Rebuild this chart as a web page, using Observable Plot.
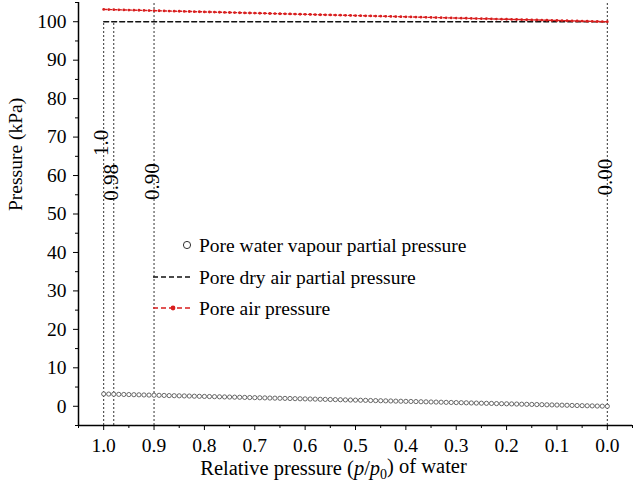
<!DOCTYPE html>
<html>
<head>
<meta charset="utf-8">
<script src="https://cdn.jsdelivr.net/npm/d3@7"></script>
<script src="https://cdn.jsdelivr.net/npm/@observablehq/plot@0.6"></script>
<style>
  html, body { margin: 0; padding: 0; background: #fff; }
  #chart { position: relative; width: 639px; height: 487px; }
  #chart svg, #chart svg text, #chart svg tspan { font-family: "Liberation Serif", "Times New Roman", serif !important; }
</style>
</head>
<body>
<div id="chart"></div>
<script>
// Relative pressure (p/p0) of water
const rh = [1.00,0.99,0.98,0.97,0.96,0.95,0.94,0.93,0.92,0.91,0.90,0.89,0.88,0.87,0.86,0.85,0.84,0.83,0.82,0.81,
  0.80,0.79,0.78,0.77,0.76,0.75,0.74,0.73,0.72,0.71,0.70,0.69,0.68,0.67,0.66,0.65,0.64,0.63,0.62,0.61,
  0.60,0.59,0.58,0.57,0.56,0.55,0.54,0.53,0.52,0.51,0.50,0.49,0.48,0.47,0.46,0.45,0.44,0.43,0.42,0.41,
  0.40,0.39,0.38,0.37,0.36,0.35,0.34,0.33,0.32,0.31,0.30,0.29,0.28,0.27,0.26,0.25,0.24,0.23,0.22,0.21,
  0.20,0.19,0.18,0.17,0.16,0.15,0.14,0.13,0.12,0.11,0.10,0.09,0.08,0.07,0.06,0.05,0.04,0.03,0.02,0.01,0.00];
// Pore water vapour partial pressure (kPa)
const vapour = [3.20,3.17,3.14,3.10,3.07,3.04,3.01,2.98,2.94,2.91,2.88,2.85,2.82,2.78,2.75,2.72,2.69,2.66,2.62,2.59,
  2.56,2.53,2.50,2.46,2.43,2.40,2.37,2.34,2.30,2.27,2.24,2.21,2.18,2.14,2.11,2.08,2.05,2.02,1.98,1.95,
  1.92,1.89,1.86,1.82,1.79,1.76,1.73,1.70,1.66,1.63,1.60,1.57,1.54,1.50,1.47,1.44,1.41,1.38,1.34,1.31,
  1.28,1.25,1.22,1.18,1.15,1.12,1.09,1.06,1.02,0.99,0.96,0.93,0.90,0.86,0.83,0.80,0.77,0.74,0.70,0.67,
  0.64,0.61,0.58,0.54,0.51,0.48,0.45,0.42,0.38,0.35,0.32,0.29,0.26,0.22,0.19,0.16,0.13,0.10,0.06,0.03,0.00];
// Pore air pressure (kPa)
const airPressure = [103.20,103.17,103.14,103.10,103.07,103.04,103.01,102.98,102.94,102.91,102.88,102.85,102.82,102.78,102.75,102.72,102.69,102.66,102.62,102.59,
  102.56,102.53,102.50,102.46,102.43,102.40,102.37,102.34,102.30,102.27,102.24,102.21,102.18,102.14,102.11,102.08,102.05,102.02,101.98,101.95,
  101.92,101.89,101.86,101.82,101.79,101.76,101.73,101.70,101.66,101.63,101.60,101.57,101.54,101.50,101.47,101.44,101.41,101.38,101.34,101.31,
  101.28,101.25,101.22,101.18,101.15,101.12,101.09,101.06,101.02,100.99,100.96,100.93,100.90,100.86,100.83,100.80,100.77,100.74,100.70,100.67,
  100.64,100.61,100.58,100.54,100.51,100.48,100.45,100.42,100.38,100.35,100.32,100.29,100.26,100.22,100.19,100.16,100.13,100.10,100.06,100.03,100.00];
// Pore dry air partial pressure (kPa)
const dryX = [1.0, 0.0];
const dryAir = [100, 100];

// Reference vertical lines
const refX = [1.0, 0.98, 0.90, 0.00];
const refTop = [100, 100, 105, 105];
const refLabels = ["1.0", "0.98", "0.90", "0.00"];
const refLabelY = [68.5, 58.2, 58.4, 59.6];

// Axis ticks
const xTicks = [1.0, 0.9, 0.8, 0.7, 0.6, 0.5, 0.4, 0.3, 0.2, 0.1, 0.0];
const xMinor = [1.05, 0.95, 0.85, 0.75, 0.65, 0.55, 0.45, 0.35, 0.25, 0.15, 0.05, -0.05];
const yTicks = [0, 10, 20, 30, 40, 50, 60, 70, 80, 90, 100];
const yMinor = [-5, 5, 15, 25, 35, 45, 55, 65, 75, 85, 95, 105];

const seriesNames = ["Pore water vapour partial pressure", "Pore dry air partial pressure", "Pore air pressure"];
const xTitle = "Relative pressure (p/p0) of water";
const yTitle = "Pressure (kPa)";

const RED = "#d81e1e";
const FONT = "'Liberation Serif', 'Times New Roman', serif";

const pts = rh.map((x, i) => ({rh: x, vapour: vapour[i], air: airPressure[i]}));
const dry = dryX.map((x, i) => ({rh: x, p: dryAir[i]}));
const refs = refX.map((x, i) => ({x, top: refTop[i], label: refLabels[i], ly: refLabelY[i]}));

const plot = Plot.plot({
  width: 639,
  height: 487,
  marginLeft: 78,
  marginRight: 7,
  marginTop: 2,
  marginBottom: 62,
  style: {fontFamily: FONT, fontSize: "19px", color: "black", background: "white"},
  x: {domain: [1.05, -0.05]},
  y: {domain: [-5, 105]},
  marks: [
    Plot.ruleX(refs, {x: "x", y1: -5, y2: "top", stroke: "#333", strokeWidth: 1, strokeDasharray: "2,2"}),
    Plot.text(refs, {x: "x", y: "ly", text: "label", rotate: -90, fontSize: 21, dx: -2, fill: "black"}),
    Plot.line(dry, {x: "rh", y: "p", stroke: "#111", strokeWidth: 1.3, strokeDasharray: "5,3"}),
    Plot.line(pts, {x: "rh", y: "air", stroke: RED, strokeWidth: 1.4, strokeDasharray: "3,2"}),
    Plot.dot(pts, {x: "rh", y: "air", r: 1.4, fill: RED}),
    Plot.dot(pts, {x: "rh", y: "vapour", r: 2.1, stroke: "#444", strokeWidth: 0.8, fill: "white"}),
    Plot.axisX({ticks: xTicks, tickSize: 5, tickPadding: 8, fontSize: 19.5, tickFormat: d3.format(".1f"), label: null}),
    Plot.axisX({ticks: xMinor, tickSize: 3, tickFormat: () => "", label: null}),
    Plot.axisY({ticks: yTicks, tickSize: 5, tickPadding: 7, fontSize: 19.5, label: null}),
    Plot.axisY({ticks: yMinor, tickSize: 3, tickFormat: () => "", label: null}),
    Plot.ruleX([1.05], {stroke: "black", strokeWidth: 1.5}),
    Plot.ruleY([-5], {stroke: "black", strokeWidth: 1.5}),
    Plot.text([yTitle], {frameAnchor: "left", text: d => d, rotate: -90, dx: -63, dy: -3, fontSize: 19.5, fill: "black"}),
    Plot.text([xTitle], {frameAnchor: "bottom", text: d => d, dx: -22, dy: 49, fontSize: 20.5, fill: "black"})
  ]
});

// Italic p and subscript 0 in the x title
d3.select(plot).selectAll("text").filter(function() { return this.textContent === xTitle; })
  .each(function() {
    const t = d3.select(this);
    t.text(null);
    t.append("tspan").text("Relative pressure (");
    t.append("tspan").attr("font-style", "italic").text("p");
    t.append("tspan").text("/");
    t.append("tspan").attr("font-style", "italic").text("p");
    t.append("tspan").attr("font-size", "14px").attr("dy", "0.3em").text("0");
    t.append("tspan").attr("dy", "-0.3em").text(") of water");
  });

// Legend
const svg = d3.select(plot);
svg.attr("font-family", FONT);
const lg = svg.append("g").attr("font-family", FONT).attr("font-size", 19.5)
  .attr("fill", "black").attr("text-anchor", "start");
const rows = [245, 277, 308];
const textX = 199;
lg.append("circle").attr("cx", 187).attr("cy", rows[0]).attr("r", 3.6)
  .attr("fill", "white").attr("stroke", "#333").attr("stroke-width", 1);
lg.append("line").attr("x1", 153).attr("x2", 193).attr("y1", rows[1]).attr("y2", rows[1])
  .attr("stroke", "#111").attr("stroke-width", 1.3).attr("stroke-dasharray", "5,3");
lg.append("line").attr("x1", 153).attr("x2", 193).attr("y1", rows[2]).attr("y2", rows[2])
  .attr("stroke", RED).attr("stroke-width", 1.3).attr("stroke-dasharray", "5,3");
lg.append("circle").attr("cx", 173).attr("cy", rows[2]).attr("r", 2.4).attr("fill", RED);
seriesNames.forEach((name, i) => {
  lg.append("text").attr("x", textX).attr("y", rows[i]).attr("dy", "0.35em")
    .attr("text-anchor", "start").text(name);
});

document.getElementById("chart").appendChild(plot);
</script>
</body>
</html>
